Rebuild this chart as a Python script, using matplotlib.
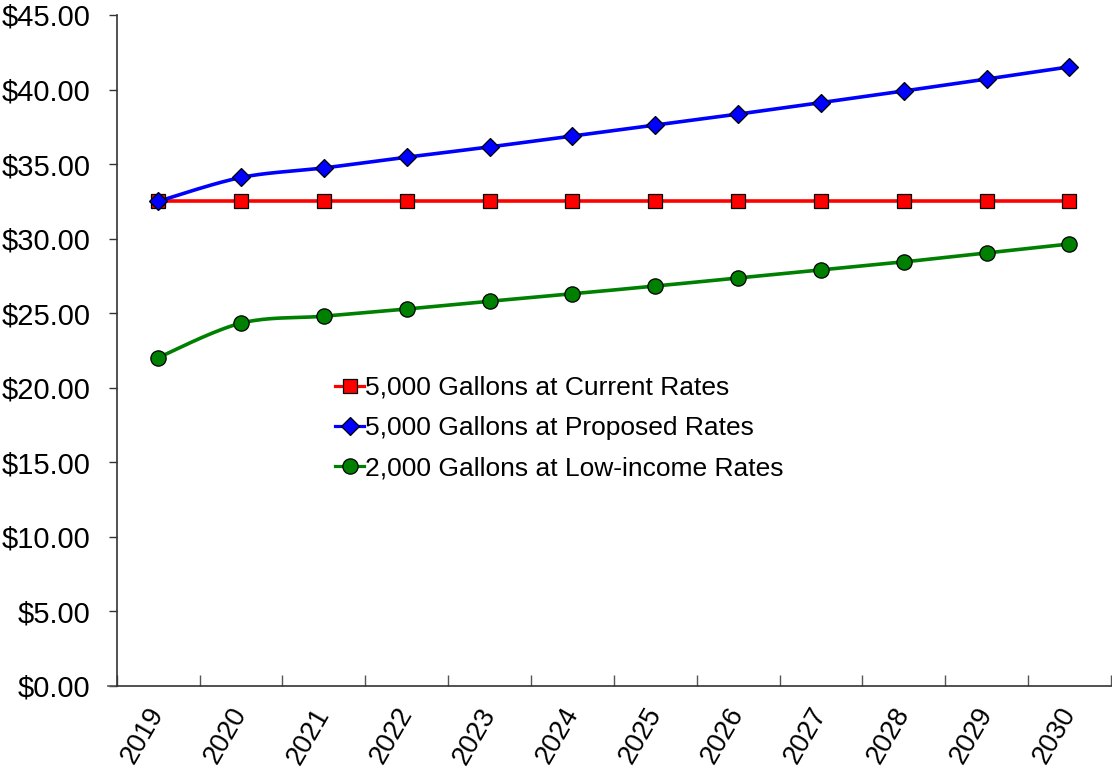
import numpy as np
import matplotlib
matplotlib.use("Agg")
import matplotlib.pyplot as plt
from matplotlib.ticker import FuncFormatter

plt.rcParams['font.family'] = ['Liberation Sans', 'DejaVu Sans']

years = ['2019', '2020', '2021', '2022', '2023', '2024', '2025', '2026', '2027', '2028', '2029', '2030']
current = [32.50] * 12
proposed = [32.50, 34.10, 34.74, 35.46, 36.15, 36.88, 37.61, 38.35, 39.12, 39.90, 40.70, 41.52]
low_income = [22.02, 24.33, 24.80, 25.28, 25.80, 26.30, 26.82, 27.36, 27.90, 28.44, 29.04, 29.64]

labels = ['5,000 Gallons at Current Rates',
          '5,000 Gallons at Proposed Rates',
          '2,000 Gallons at Low-income Rates']


def smooth(x, y, n=20):
    # Excel-like smoothed line: Catmull-Rom bezier between the points
    x = np.asarray(x, float)
    y = np.asarray(y, float)
    xs, ys = [x[0]], [y[0]]
    t = np.linspace(0, 1, n)[1:]
    last = len(x) - 1
    for i in range(last):
        p0 = np.array([x[max(i - 1, 0)], y[max(i - 1, 0)]])
        p1 = np.array([x[i], y[i]])
        p2 = np.array([x[i + 1], y[i + 1]])
        p3 = np.array([x[min(i + 2, last)], y[min(i + 2, last)]])
        c1 = p1 + (p2 - p0) / 6
        c2 = p2 - (p3 - p1) / 6
        b = ((1 - t) ** 3)[:, None] * p1 + (3 * (1 - t) ** 2 * t)[:, None] * c1 \
            + (3 * (1 - t) * t ** 2)[:, None] * c2 + (t ** 3)[:, None] * p2
        xs.extend(b[:, 0])
        ys.extend(b[:, 1])
    return np.array(xs), np.array(ys)


fig = plt.figure(figsize=(11.12, 7.74), dpi=100)
ax = fig.add_axes([0.105, 0.1137, 0.894, 0.867])

x = np.arange(len(years))
series = [
    (current, 'red', 's', 10.5),
    (proposed, '#0000ff', 'D', 9.0),
    (low_income, 'green', 'o', 11),
]
for vals, col, mk, ms in series:
    sx, sy = smooth(x, vals)
    ax.plot(sx, sy, color=col, lw=2.6, zorder=2)
for (vals, col, mk, ms), lab in zip(series, labels):
    ax.plot(x, vals, ls='none', marker=mk, ms=ms, mfc=col, mec='black', mew=0.9, zorder=3)
    ax.plot([], [], color=col, lw=2.3, marker=mk, ms=ms, mfc=col, mec='black', mew=0.9, label=lab)

ax.set_xlim(-0.5, len(years) - 0.5)
ax.set_ylim(0, 45)
ax.set_yticks(np.arange(0, 46, 5))
ax.yaxis.set_major_formatter(FuncFormatter(lambda v, p: '${:.2f}'.format(v)))
ax.tick_params(axis='y', direction='out', length=6, width=1, color='#333333', labelsize=21, pad=13)

ax.set_xticks(x)
ax.set_xticklabels(years, rotation=60, ha='right', va='center', rotation_mode='anchor')
ax.set_xticks(np.arange(-0.5, len(years), 1), minor=True)
ax.tick_params(axis='x', which='major', length=0, labelsize=19.5, pad=17)
ax.tick_params(axis='x', which='minor', direction='in', length=8, width=1, color='#555555')

for s in ['top', 'right']:
    ax.spines[s].set_visible(False)
for s in ['left', 'bottom']:
    ax.spines[s].set_color('#333333')
    ax.spines[s].set_linewidth(1.2)
ax.plot([-0.5 - 9 / 82.8, -0.5], [0, 0], color='#555555', lw=1.2, clip_on=False)

ax.legend(loc='upper left', bbox_to_anchor=(0.209, 0.478), frameon=False, fontsize=19,
          handlelength=1.1, handletextpad=0.05, labelspacing=0.62, borderaxespad=0)

fig.savefig('out.png', dpi=100)
